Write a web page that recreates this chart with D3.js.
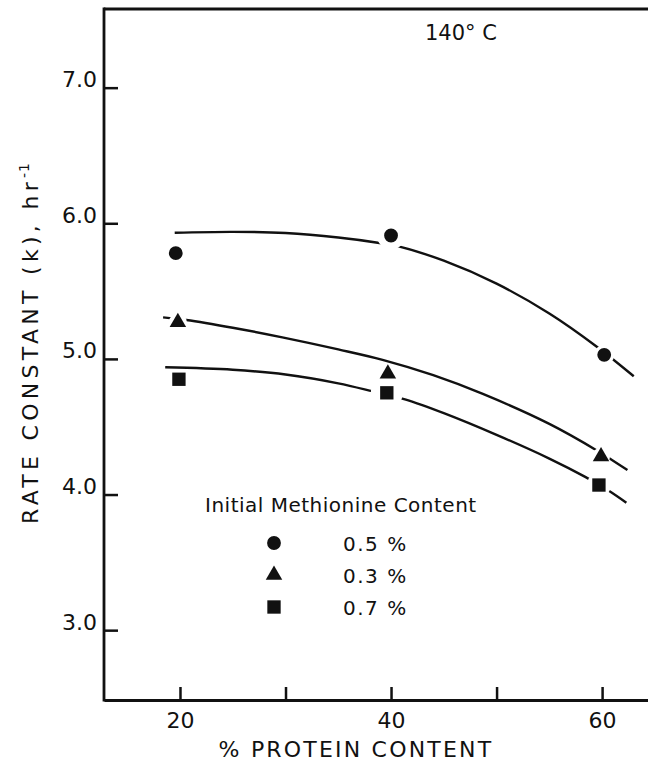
<!DOCTYPE html>
<html>
<head>
<meta charset="utf-8">
<script src="https://cdn.jsdelivr.net/npm/d3@7"></script>
<style>
  html, body { margin: 0; padding: 0; background: #fff; }
  svg { display: block; }
  text { font-family: "DejaVu Sans", sans-serif; fill: #111; }
</style>
</head>
<body>
<svg id="chart" width="648" height="769"></svg>
<script>
// Rate constant k (hr^-1) vs. protein content, 140 °C
const seriesNames = ["0.5 %", "0.3 %", "0.7 %"];
const seriesShapes = ["circle", "triangle", "square"];

// measured points: protein content (%) and k
const protein05 = [19.6, 40.0, 60.2];
const rate05    = [5.78, 5.91, 5.03];
const protein03 = [19.8, 39.7, 59.9];
const rate03    = [5.27, 4.89, 4.28];
const protein07 = [19.9, 39.6, 59.7];
const rate07    = [4.85, 4.75, 4.07];

// fitted curves (protein %, k)
const fit05X = [19.5, 25, 30, 35, 38.9, 40.8, 45, 50, 55, 59.5, 63.0];
const fit05Y = [5.93, 5.937, 5.928, 5.895, 5.855, 5.828, 5.724, 5.555, 5.335, 5.09, 4.872];
const fit03X = [18.4, 20.6, 25, 29.7, 35, 39.2, 44, 48.7, 55.0, 59.5, 62.4];
const fit03Y = [5.306, 5.287, 5.23, 5.159, 5.07, 4.993, 4.88, 4.742, 4.521, 4.325, 4.18];
const fit07X = [18.6, 25, 30, 35, 38.3, 41.4, 45, 50, 55, 58.4, 60.6, 62.3];
const fit07Y = [4.938, 4.92, 4.885, 4.82, 4.76, 4.70, 4.60, 4.44, 4.265, 4.13, 4.03, 3.94];

const xTicks = [20, 30, 40, 50, 60];
const xTickLabels = ["20", "", "40", "", "60"];
const yTicks = [3, 4, 5, 6, 7];
const yTickLabels = ["3.0", "4.0", "5.0", "6.0", "7.0"];

const xTitle = "% PROTEIN CONTENT";
const yTitle = "RATE CONSTANT (k), hr";
const yTitleSup = "-1";
const tempLabel = "140° C";
const legendTitle = "Initial Methionine Content";

const series = [
  { name: seriesNames[0], shape: seriesShapes[0], xs: protein05, ys: rate05, fx: fit05X, fy: fit05Y, gaps: [0, 14, 10] },
  { name: seriesNames[1], shape: seriesShapes[1], xs: protein03, ys: rate03, fx: fit03X, fy: fit03Y, gaps: [9, 0, 9] },
  { name: seriesNames[2], shape: seriesShapes[2], xs: protein07, ys: rate07, fx: fit07X, fy: fit07Y, gaps: [0, 16, 12] }
];

const svg = d3.select("#chart");
const W = 648, H = 769;
const plotLeft = 104, plotTop = 9, plotBottom = 700, plotRight = 648;

const x = d3.scaleLinear().domain([12.8, 64.35]).range([plotLeft, plotRight]);
const y = d3.scaleLinear().domain([2.485, 7.58]).range([plotBottom, plotTop]);

const ink = "#111";

function symbolFor(shape, size) {
  const type = shape === "circle" ? d3.symbolCircle
             : shape === "triangle" ? d3.symbolTriangle
             : d3.symbolSquare;
  return d3.symbol().type(type).size(size)();
}
const symbolSize = { circle: 150, triangle: 118, square: 178 };

// frame: left axis, top rule
svg.append("line").attr("x1", plotLeft).attr("x2", plotLeft).attr("y1", plotTop - 1.4).attr("y2", plotBottom + 1.4)
  .attr("stroke", ink).attr("stroke-width", 2.8);
svg.append("line").attr("x1", plotLeft).attr("x2", plotRight).attr("y1", plotTop).attr("y2", plotTop)
  .attr("stroke", ink).attr("stroke-width", 2.8);

// y axis
const yAxis = d3.axisLeft(y).tickValues(yTicks)
  .tickFormat((d, i) => yTickLabels[i])
  .tickSizeInner(-14).tickSizeOuter(0).tickPadding(7);
const gy = svg.append("g").attr("transform", `translate(${plotLeft},0)`).call(yAxis);
gy.select(".domain").remove();
gy.selectAll(".tick line").attr("stroke", ink).attr("stroke-width", 2.5);
gy.selectAll(".tick text").attr("dy", "-1").attr("font-size", 22)
  .attr("font-family", "DejaVu Sans").attr("fill", ink);

// x axis
const xAxis = d3.axisBottom(x).tickValues(xTicks)
  .tickFormat((d, i) => xTickLabels[i])
  .tickSizeInner(-13).tickSizeOuter(0).tickPadding(0);
const gx = svg.append("g").attr("transform", `translate(0,${plotBottom})`).call(xAxis);
gx.select(".domain").attr("stroke", ink).attr("stroke-width", 2.8);
gx.selectAll(".tick line").attr("stroke", ink).attr("stroke-width", 2.5);
gx.selectAll(".tick text").attr("y", 28).attr("dy", 0).attr("font-size", 22)
  .attr("font-family", "DejaVu Sans").attr("fill", ink);

// axis titles
svg.append("text").attr("x", 356).attr("y", 757).attr("text-anchor", "middle")
  .attr("font-size", 22).attr("letter-spacing", 2.2).text(xTitle);

const yt = svg.append("text").attr("transform", "translate(38,343) rotate(-90)")
  .attr("text-anchor", "middle").attr("font-size", 22).attr("letter-spacing", 4.3);
yt.append("tspan").text(yTitle);
yt.append("tspan").attr("dy", -9).attr("font-size", 14).attr("letter-spacing", 1).text(yTitleSup);

// temperature
svg.append("text").attr("x", 425).attr("y", 40).attr("font-size", 21).text(tempLabel);

// curves, broken around their markers
const defs = svg.append("defs");
const line = d3.line().x(d => x(d[0])).y(d => y(d[1])).curve(d3.curveCatmullRom.alpha(0.5));

series.forEach((s, k) => {
  const m = defs.append("mask").attr("id", "gap" + k).attr("maskUnits", "userSpaceOnUse")
    .attr("x", 0).attr("y", 0).attr("width", W).attr("height", H);
  m.append("rect").attr("width", W).attr("height", H).attr("fill", "#fff");
  s.xs.forEach((xv, i) => {
    if (s.gaps[i] > 0) {
      m.append("circle").attr("cx", x(xv)).attr("cy", y(s.ys[i])).attr("r", s.gaps[i]).attr("fill", "#000");
    }
  });
  svg.append("path")
    .datum(s.fx.map((v, i) => [v, s.fy[i]]))
    .attr("d", line)
    .attr("fill", "none").attr("stroke", ink).attr("stroke-width", 2.4)
    .attr("mask", `url(#gap${k})`);
});

// markers
series.forEach(s => {
  svg.append("g").selectAll("path")
    .data(s.xs.map((v, i) => [v, s.ys[i]]))
    .join("path")
    .attr("transform", d => `translate(${x(d[0])},${y(d[1])})`)
    .attr("d", symbolFor(s.shape, symbolSize[s.shape]))
    .attr("fill", ink);
});

// legend
const lg = svg.append("g");
lg.append("text").attr("x", 205).attr("y", 512).attr("font-size", 20)
  .attr("letter-spacing", 0.5).text(legendTitle);
const legendY = d3.scalePoint().domain(seriesNames).range([543, 607]);
series.forEach(s => {
  lg.append("path")
    .attr("transform", `translate(274,${legendY(s.name)})`)
    .attr("d", symbolFor(s.shape, symbolSize[s.shape]))
    .attr("fill", ink);
  lg.append("text").attr("x", 343).attr("y", legendY(s.name) + 8)
    .attr("font-size", 20).attr("letter-spacing", 1.5).text(s.name);
});
</script>
</body>
</html>
